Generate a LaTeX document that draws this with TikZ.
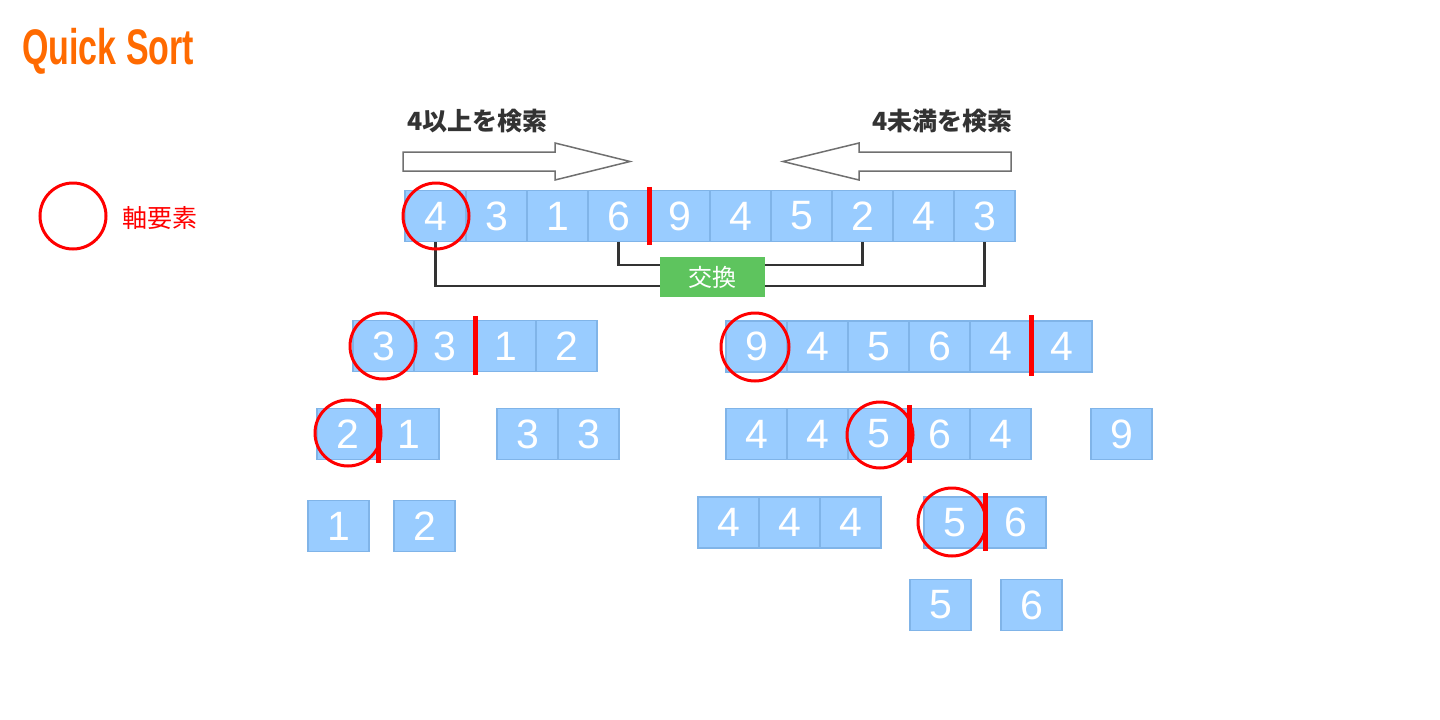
\documentclass[tikz,border=0pt]{standalone}
\usepackage{fontspec}
\setmainfont{Liberation Sans}
\newfontfamily\cjk{Noto Sans CJK JP}
\usetikzlibrary{calc}
\definecolor{cellfill}{HTML}{99CCFF}
\definecolor{cellline}{HTML}{80B4E8}
\definecolor{pivot}{HTML}{FF0000}
\definecolor{titleorange}{HTML}{FF6A00}
\definecolor{swapgreen}{HTML}{5EC45E}
\definecolor{linegray}{HTML}{333333}
\definecolor{arrowgray}{HTML}{707070}
\newcommand{\cellrow}[4]{%
  \foreach \v [count=\n] in {#4}{%
    \node[cell] (#1\n) at ({#2+30.5+61*(\n-1)},#3) {\v};}}
\begin{document}
\begin{tikzpicture}[x=1pt,y=-1pt,
  cell/.style={draw=cellline, fill=cellfill, line width=1.2pt,
    minimum width=61pt, minimum height=51pt, inner sep=0pt,
    text=white, font=\fontsize{41}{41}\selectfont},
  pivotring/.style={draw=pivot, line width=3pt, circle,
    minimum size=66pt, inner sep=0pt},
  splitbar/.style={draw=pivot, line width=5.5pt},
  xline/.style={draw=linegray, line width=2.8pt},
  searcharrow/.style={draw=arrowgray, fill=white, line width=1.5pt, line join=miter},
  searchlabel/.style={text=linegray, inner sep=0pt,
    font=\cjk\bfseries\fontsize{25}{25}\selectfont}]
\useasboundingbox (0,0) rectangle (1440,720);

% title
\node[anchor=base west, text=titleorange, inner sep=0pt,
  font=\bfseries\fontsize{50}{50}\selectfont] (title) at (22,64)
  {\scalebox{0.68}[1]{Quick Sort}};

% legend
\node[pivotring] (legendring) at (73,216) {};
\node[anchor=west, text=pivot, inner sep=0pt,
  font=\cjk\fontsize{25}{25}\selectfont] (legendtext) at (122,218) {軸要素};

% search labels and arrows
\node[searchlabel, anchor=west] (lblright) at (407,121) {4以上を検索};
\node[searchlabel, anchor=east] (lblleft) at (1013,121) {4未満を検索};
\draw[searcharrow] (403,152) -- (555,152) -- (555,143) -- (630,161.5)
  -- (555,180) -- (555,171) -- (403,171) -- cycle;
\draw[searcharrow] (1011,152) -- (859,152) -- (859,143) -- (783,161.5)
  -- (859,180) -- (859,171) -- (1011,171) -- cycle;

% rows of cells
\cellrow{a}{405}{216}{4,3,1,6,9,4,5,2,4,3}
\cellrow{b}{353}{346}{3,3,1,2}
\cellrow{c}{726}{346.5}{9,4,5,6,4,4}
\cellrow{d}{317}{434}{2,1}
\cellrow{e}{497}{434}{3,3}
\cellrow{f}{726}{434}{4,4,5,6,4}
\cellrow{g}{1091}{434}{9}
\cellrow{h}{308}{526}{1}
\cellrow{p}{394}{526}{2}
\cellrow{j}{698}{522.5}{4,4,4}
\cellrow{k}{924}{522.5}{5,6}
\cellrow{l}{910}{605}{5}
\cellrow{m}{1001}{605}{6}

% swap indicator
\node[fill=swapgreen, minimum width=105pt, minimum height=40pt, inner sep=0pt,
  text=white, font=\cjk\fontsize{24}{24}\selectfont] (swap) at (712.5,277) {交換};
\draw[xline] (a1.south) |- ([yshift=-9pt]swap.west);
\draw[xline] ([yshift=-9pt]swap.east) -| (a10.south);
\draw[xline] (a4.south) |- ([yshift=12pt]swap.west);
\draw[xline] ([yshift=12pt]swap.east) -| (a8.south);

% pivot rings
\node[pivotring] (ring1) at (436,216) {};
\node[pivotring] (ring2) at (383,346) {};
\node[pivotring, minimum size=68pt] (ring3) at (755,347) {};
\node[pivotring] (ring4) at (348,433) {};
\node[pivotring] (ring5) at (880,435) {};
\node[pivotring, minimum size=68pt] (ring6) at (952,522) {};

% split bars
\draw[splitbar] ([yshift=3pt]a4.north east) -- ([yshift=-3pt]a4.south east);
\draw[splitbar] ([yshift=4pt]b2.north east) -- ([yshift=-3pt]b2.south east);
\draw[splitbar] ([yshift=5pt]c5.north east) -- ([yshift=-3pt]c5.south east);
\draw[splitbar] ([yshift=4pt]d1.north east) -- ([yshift=-3pt]d1.south east);
\draw[splitbar] ([yshift=3pt]f3.north east) -- ([yshift=-3pt]f3.south east);
\draw[splitbar] ([yshift=3pt]k1.north east) -- ([yshift=-2pt]k1.south east);
\end{tikzpicture}
\end{document}
